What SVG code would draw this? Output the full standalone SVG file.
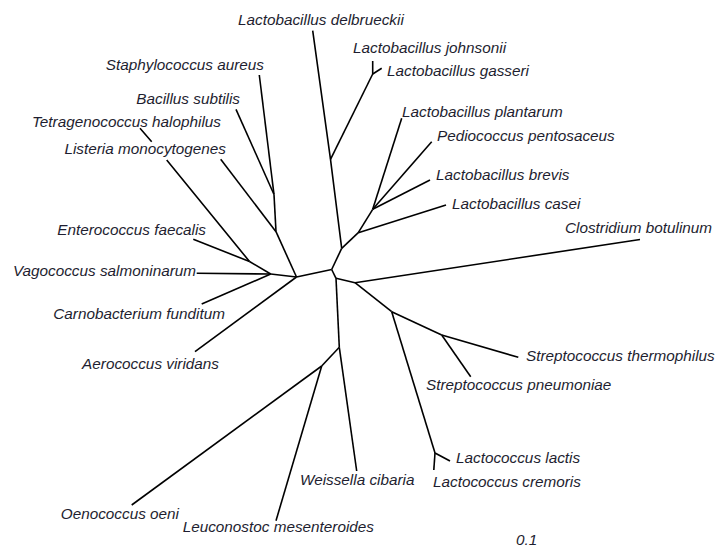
<svg xmlns="http://www.w3.org/2000/svg" width="715" height="548" viewBox="0 0 715 548">
<style>
.bg{fill:#ffffff}
.e{fill:none;stroke:#000000;stroke-width:1.6;stroke-linecap:butt;stroke-linejoin:round}
.t{font-family:"Liberation Sans",Arial,sans-serif;font-size:15.3px;font-style:italic;fill:#1e1e30}
</style>
<rect class="bg" x="0" y="0" width="715" height="548"/>
<g id="connectors">
<path class="e" d="M270.7,274 L296.5,277"/>
<path class="e" d="M270.7,274 L196.7,273.3"/>
<path class="e" d="M270.7,274 L249.5,261.5"/>
<path class="e" d="M270.7,274 L201.7,304"/>
<path class="e" d="M249.5,261.5 L193.3,239.3"/>
<path class="e" d="M249.5,261.5 L166.7,160 M151.7,141.7 L140,128.3"/>
<path class="e" d="M296.5,277 L276,231.7"/>
<path class="e" d="M296.5,277 L195,351.7"/>
<path class="e" d="M296.5,277 L331.7,269.5"/>
<path class="e" d="M276,231.7 L274,194.5"/>
<path class="e" d="M276,231.7 L220.7,159.3"/>
<path class="e" d="M274,194.5 L259.3,75"/>
<path class="e" d="M274,194.5 L236,109.3"/>
<path class="e" d="M331.7,269.5 L341.7,248.3"/>
<path class="e" d="M331.7,269.5 L336,278.3"/>
<path class="e" d="M341.7,248.3 L330.5,159.3 L312.7,30.7"/>
<path class="e" d="M330.5,159.3 L372.7,74"/>
<path class="e" d="M372.7,74 L372.7,61"/>
<path class="e" d="M372.7,74 L381.7,68.3"/>
<path class="e" d="M341.7,248.3 L358.3,232.7"/>
<path class="e" d="M358.3,232.7 L446,205"/>
<path class="e" d="M358.3,232.7 L372.7,209.3"/>
<path class="e" d="M372.7,209.3 L401.7,118.3"/>
<path class="e" d="M372.7,209.3 L431.7,141.7"/>
<path class="e" d="M372.7,209.3 L430,180"/>
<path class="e" d="M336,278.3 L355,282.7"/>
<path class="e" d="M355,282.7 L640,239.5"/>
<path class="e" d="M355,282.7 L391.7,311.7"/>
<path class="e" d="M391.7,311.7 L441.7,335"/>
<path class="e" d="M441.7,335 L518.3,357.3"/>
<path class="e" d="M441.7,335 L470.7,376.7"/>
<path class="e" d="M391.7,311.7 L435,453"/>
<path class="e" d="M435,453 L433.8,470"/>
<path class="e" d="M435,453 L450,461"/>
<path class="e" d="M336,278.3 L339.3,347.3"/>
<path class="e" d="M339.3,347.3 L356.7,471"/>
<path class="e" d="M339.3,347.3 L321.7,366"/>
<path class="e" d="M321.7,366 L131.7,505"/>
<path class="e" d="M321.7,366 L276,520.7"/>
</g>
<g id="n-delbrueckii"><text class="t" x="238" y="25">Lactobacillus delbrueckii</text></g>
<g id="n-johnsonii"><text class="t" x="353" y="53">Lactobacillus johnsonii</text></g>
<g id="n-gasseri"><text class="t" x="387" y="76">Lactobacillus gasseri</text></g>
<g id="n-plantarum"><text class="t" x="402" y="117">Lactobacillus plantarum</text></g>
<g id="n-pediococcus"><text class="t" x="437" y="141">Pediococcus pentosaceus</text></g>
<g id="n-brevis"><text class="t" x="436" y="180">Lactobacillus brevis</text></g>
<g id="n-casei"><text class="t" x="452" y="209">Lactobacillus casei</text></g>
<g id="n-clostridium"><text class="t" x="565" y="233">Clostridium botulinum</text></g>
<g id="n-staphylococcus"><text class="t" x="264" y="70" text-anchor="end">Staphylococcus aureus</text></g>
<g id="n-bacillus"><text class="t" x="240" y="104" text-anchor="end">Bacillus subtilis</text></g>
<g id="n-tetragenococcus"><text class="t" x="221" y="127" text-anchor="end">Tetragenococcus halophilus</text></g>
<g id="n-listeria"><text class="t" x="226" y="154" text-anchor="end">Listeria monocytogenes</text></g>
<g id="n-enterococcus"><text class="t" x="206" y="235" text-anchor="end">Enterococcus faecalis</text></g>
<g id="n-vagococcus"><text class="t" x="196" y="276" text-anchor="end">Vagococcus salmoninarum</text></g>
<g id="n-carnobacterium"><text class="t" x="225" y="319" text-anchor="end">Carnobacterium funditum</text></g>
<g id="n-aerococcus"><text class="t" x="219" y="369" text-anchor="end">Aerococcus viridans</text></g>
<g id="n-oenococcus"><text class="t" x="179" y="519" text-anchor="end">Oenococcus oeni</text></g>
<g id="n-leuconostoc"><text class="t" x="374" y="532" text-anchor="end">Leuconostoc mesenteroides</text></g>
<g id="n-weissella"><text class="t" x="300" y="485">Weissella cibaria</text></g>
<g id="n-lactis"><text class="t" x="456" y="463">Lactococcus lactis</text></g>
<g id="n-cremoris"><text class="t" x="433" y="487">Lactococcus cremoris</text></g>
<g id="n-thermophilus"><text class="t" x="526" y="361">Streptococcus thermophilus</text></g>
<g id="n-pneumoniae"><text class="t" x="426" y="390">Streptococcus pneumoniae</text></g>
<g id="scale"><text class="t" x="516" y="545">0.1</text></g>
</svg>
